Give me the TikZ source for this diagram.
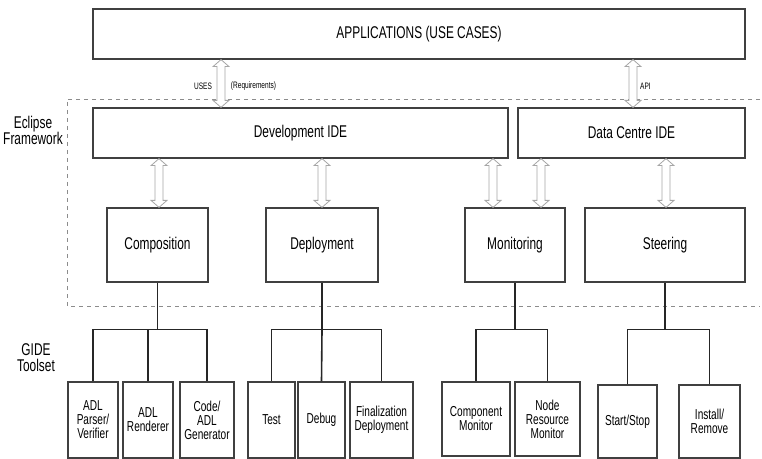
\documentclass[tikz,border=0pt]{standalone}
\usepackage{fontspec}
\setmainfont[FakeStretch=0.7]{Liberation Sans}

% hollow double arrow between two boxes at a given x
\newcommand{\hollowarrow}[3]{%
  \coordinate (hx) at (#3,0);
  \path (#1.south -| hx) coordinate (ht) (#2.north -| hx) coordinate (hb);
  \draw[hollow] (ht) -- ([shift={(8,7)}]ht) -- ([shift={(4,7)}]ht) -- ([shift={(4,-7)}]hb)
    -- ([shift={(8,-7)}]hb) -- (hb) -- ([shift={(-8,-7)}]hb) -- ([shift={(-4,-7)}]hb)
    -- ([shift={(-4,7)}]ht) -- ([shift={(-8,7)}]ht) -- cycle;}

\begin{document}
\begin{tikzpicture}[x=0.75pt,y=-0.75pt,
    sz/.style 2 args={minimum width=#1*0.75pt,minimum height=#2*0.75pt},
    box/.style={draw=black!75,line width=0.9pt,inner sep=0pt,align=center,
      font=\fontsize{12.75}{14}\selectfont},
    leaf/.style={draw=black!75,line width=0.9pt,inner sep=0pt,align=center,
      font=\fontsize{10.8}{10.5}\selectfont},
    tree/.style={draw=black!85,line width=1.2pt},
    hollow/.style={draw=black!35,fill=white,line width=0.6pt},
    frame/.style={draw=black!45,dashed,line width=0.6pt},
    side/.style={align=center,font=\fontsize{12.75}{12}\selectfont},
    tag/.style={inner sep=0pt,font=\fontsize{7}{8}\selectfont}]
    \useasboundingbox (0,0) rectangle (762,459);

    % Draw framework boundary (dashed)
    \draw[frame] (760,99) -- (67,99) -- (67,306) -- (760,306);

    % Side labels
    \node[side] (eclipse) at (33,130) {Eclipse\\Framework};
    \node[side] (gide) at (36,358) {GIDE\\Toolset};

    % Top layers
    \node[box,sz={652}{50}] (app) at (419,34) {APPLICATIONS (USE CASES)};
    \node[box,sz={415}{50}] (dev) at (300.5,133) {Development IDE};
    \node[box,sz={227}{50}] (dc) at (631.5,133) {Data Centre IDE};

    % Middle layer
    \node[box,sz={101}{74}] (comp) at (157.5,245) {Composition};
    \node[box,sz={112}{74}] (depl) at (322,245) {Deployment};
    \node[box,sz={100}{74}] (mon) at (515,245) {Monitoring};
    \node[box,sz={160}{74}] (steer) at (665,245) {Steering};

    % Toolset boxes
    \node[leaf,sz={50}{76}] (parser) at (93,420) {ADL\\Parser/\\Verifier};
    \node[leaf,sz={50}{76}] (rend) at (148,420) {ADL\\Renderer};
    \node[leaf,sz={54}{76}] (gen) at (207,420) {Code/\\ADL\\Generator};
    \node[leaf,sz={47}{76}] (test) at (271.5,420) {Test};
    \node[leaf,sz={47}{76}] (debug) at (321.5,420) {Debug};
    \node[leaf,sz={63}{76}] (fin) at (381.5,420) {Finalization\\Deployment};
    \node[leaf,sz={68}{74}] (cmon) at (476,419) {Component\\Monitor};
    \node[leaf,sz={65}{74}] (nrmon) at (547.5,419) {Node\\Resource\\Monitor};
    \node[leaf,sz={59}{73}] (ss) at (627.5,421.5) {Start/Stop};
    \node[leaf,sz={61}{73}] (inst) at (709.5,421.5) {Install/\\Remove};

    % Interface arrows
    \hollowarrow{app}{dev}{221}
    \hollowarrow{app}{dc}{633}
    \hollowarrow{dev}{comp}{159}
    \hollowarrow{dev}{depl}{322}
    \hollowarrow{dev}{mon}{493}
    \hollowarrow{dc}{mon}{541}
    \hollowarrow{dc}{steer}{666}

    % Arrow labels
    \node[tag] (uses) at (203,86) {USES};
    \node[tag] (req) at (253.5,86) {(Requirements)};
    \node[tag] (api) at (645.5,86) {API};

    % Tree connections
    \draw[tree] (comp.south) -- ++(0,47) coordinate (cj);
    \draw[tree] (parser.north) |- (cj) -| (gen.north);
    \draw[tree] (cj) -| (rend.north);

    \draw[tree] (depl.south) -- ++(0,47) coordinate (dj);
    \draw[tree] (test.north) |- (dj) -| (fin.north);
    \draw[tree] (dj) -- (debug.north);

    \draw[tree] (mon.south) -- ++(0,47) coordinate (mj);
    \draw[tree] (cmon.north) |- (mj) -| (nrmon.north);

    \draw[tree] (steer.south) -- ++(0,47) coordinate (sj);
    \draw[tree] (ss.north) |- (sj) -| (inst.north);
\end{tikzpicture}
\end{document}
